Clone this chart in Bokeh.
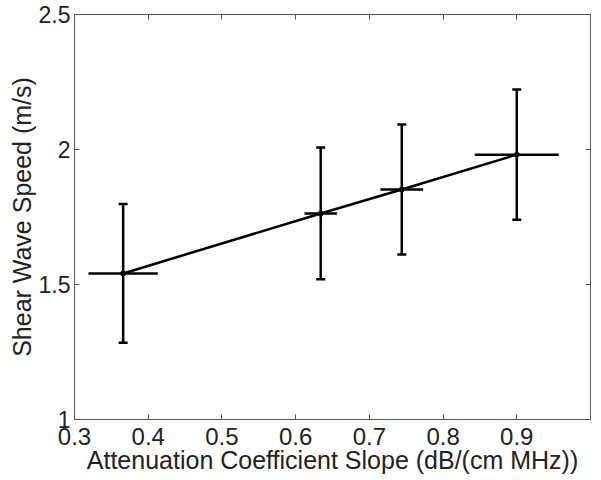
from bokeh.plotting import figure
from bokeh.models import ColumnDataSource, Whisker, TeeHead, LinearAxis, FixedTicker, Range1d
from bokeh.embed import file_html
from bokeh.resources import INLINE

# Data
acs = [0.366, 0.634, 0.744, 0.900]          # attenuation coefficient slope
acs_err = [0.047, 0.022, 0.029, 0.057]      # horizontal half error
speed = [1.541, 1.763, 1.852, 1.981]        # shear wave speed (m/s)
speed_err = [0.257, 0.244, 0.241, 0.241]    # vertical half error

x_ticks = [0.3, 0.4, 0.5, 0.6, 0.7, 0.8, 0.9]
y_ticks = [1.0, 1.5, 2.0, 2.5]
y_tick_labels = ["1", "1.5", "2", "2.5"]

src = ColumnDataSource(dict(
    x=acs, y=speed,
    xl=[a - e for a, e in zip(acs, acs_err)], xu=[a + e for a, e in zip(acs, acs_err)],
    yl=[s - e for s, e in zip(speed, speed_err)], yu=[s + e for s, e in zip(speed, speed_err)],
))

FONT = "Liberation Sans"
TXT = "#222222"
AX = "#555555"

p = figure(width=600, height=479, output_backend="svg", toolbar_location=None,
           x_range=Range1d(0.3, 1.0), y_range=Range1d(1.0, 2.5),
           min_border_left=74, min_border_right=10, min_border_top=14, min_border_bottom=60)
p.xgrid.visible = False
p.ygrid.visible = False
p.outline_line_color = AX
p.background_fill_color = "white"
p.border_fill_color = "white"

def style_axis(ax):
    ax.axis_line_color = AX
    ax.major_tick_line_color = AX
    ax.major_tick_in = 5
    ax.major_tick_out = 0
    ax.minor_tick_line_color = None
    ax.major_label_text_font = FONT
    ax.major_label_text_color = TXT
    ax.axis_label_text_font = FONT
    ax.axis_label_text_color = TXT
    ax.axis_label_text_font_style = "normal"

xa = p.xaxis[0]
ya = p.yaxis[0]
style_axis(xa); style_axis(ya)
xa.ticker = FixedTicker(ticks=x_ticks)
ya.ticker = FixedTicker(ticks=y_ticks)
ya.major_label_overrides = {t: l for t, l in zip(y_ticks, y_tick_labels)}
xa.major_label_text_font_size = "24px"
ya.major_label_text_font_size = "23px"
xa.axis_label = "Attenuation Coefficient Slope (dB/(cm MHz))"
ya.axis_label = "Shear Wave Speed (m/s)"
xa.axis_label_text_font_size = "25px"
ya.axis_label_text_font_size = "25px"
xa.major_label_standoff = 8
ya.major_label_standoff = 4
xa.axis_label_standoff = -2
ya.axis_label_standoff = 0

# box ticks on top and right (no labels)
top = LinearAxis(ticker=FixedTicker(ticks=x_ticks))
right = LinearAxis(ticker=FixedTicker(ticks=y_ticks))
for ax in (top, right):
    style_axis(ax)
    ax.major_label_text_font_size = "1px"
    ax.major_label_text_color = None
    ax.major_label_standoff = 0
p.add_layout(top, "above")
p.add_layout(right, "right")

# connecting line
p.line("x", "y", source=src, line_color="black", line_width=2.5)

# vertical error bars with caps
vw = Whisker(source=src, base="x", lower="yl", upper="yu", dimension="height",
             line_color="black", line_width=2.5,
             lower_head=TeeHead(size=9, line_color="black", line_width=2.5),
             upper_head=TeeHead(size=9, line_color="black", line_width=2.5))
p.add_layout(vw)
# horizontal error bars, no caps
hw = Whisker(source=src, base="y", lower="xl", upper="xu", dimension="width",
             line_color="black", line_width=2.5, lower_head=None, upper_head=None)
p.add_layout(hw)

p.scatter("x", "y", source=src, size=5, color="black")

open("out.html", "w").write(file_html(p, INLINE))
